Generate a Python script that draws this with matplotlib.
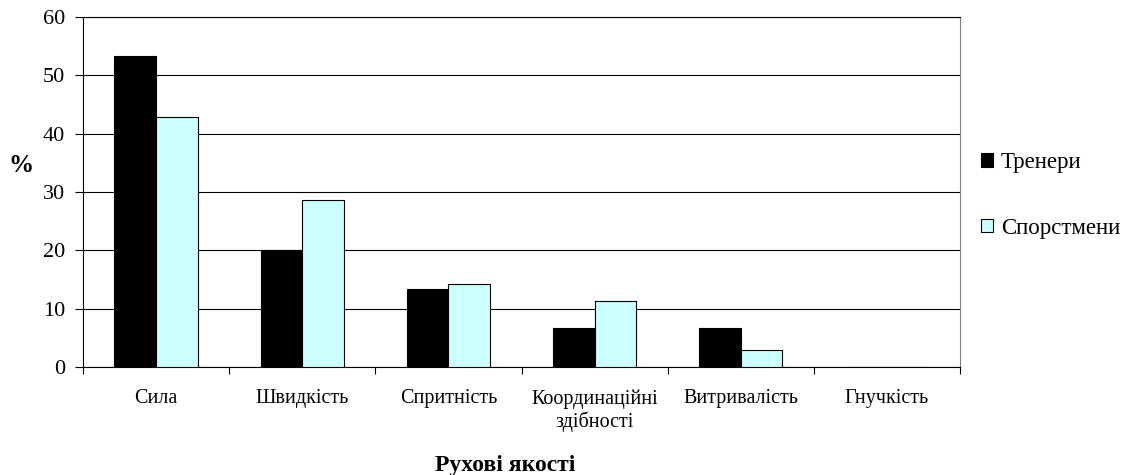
import matplotlib
matplotlib.use("Agg")
import matplotlib.pyplot as plt
import numpy as np
from matplotlib.patches import Patch

categories = ["Сила", "Швидкість", "Спритність", "Координаційні\nздібності", "Витривалість", "Гнучкість"]
coaches = [53.3, 20.0, 13.3, 6.7, 6.7, 0.0]
athletes = [42.9, 28.6, 14.3, 11.4, 2.9, 0.0]
series_names = ["Тренери", "Спорстмени"]
yticks = [0, 10, 20, 30, 40, 50, 60]

plt.rcParams['font.family'] = ['Liberation Serif', 'DejaVu Serif']

fig = plt.figure(figsize=(11.23, 4.75), dpi=100)
ax = fig.add_axes([83/1123, 1 - 367/475, (960-83)/1123, (367-17)/475])

x = np.arange(len(categories))
w = 0.285
ax.bar(x - w/2, coaches, w, color='black', edgecolor='black', linewidth=0.8, zorder=3)
ax.bar(x + w/2, athletes, w, color='#CCFFFF', edgecolor='black', linewidth=0.8, zorder=3)

ax.set_xlim(-0.5, len(categories) - 0.5)
ax.set_ylim(0, 60)
ax.set_yticks(yticks)
ax.set_yticklabels([str(v) for v in yticks], fontsize=16)
ax.yaxis.grid(True, color='black', linewidth=0.8, zorder=0)
ax.set_axisbelow(True)

ax.set_xticks(np.arange(-0.5, len(categories), 1.0))
ax.set_xticklabels([])
ax.set_xticks(x, minor=True)
ax.set_xticklabels(categories, minor=True, fontsize=14.5, linespacing=1.2)
ax.tick_params(axis='x', which='minor', length=0, pad=16)
ax.tick_params(axis='x', which='major', length=5, direction='out', width=0.8)
ax.tick_params(axis='y', length=6, direction='out', width=0.8, pad=7)

for s in ax.spines.values():
    s.set_linewidth(0.8)
    s.set_color('black')
ax.spines['right'].set_color('#808080')

fig.text(21/1123, 1 - 165/475, '%', fontsize=18, fontweight='bold', ha='center', va='center')
fig.text(505/1123, 1 - 465/475, 'Рухові якості', fontsize=17, fontweight='bold', ha='center', va='center')

handles = [Patch(facecolor='black', edgecolor='black', linewidth=0.8),
           Patch(facecolor='#CCFFFF', edgecolor='black', linewidth=0.8)]
fig.legend(handles, series_names, loc='upper left', bbox_to_anchor=(981/1123, 1 - 152/475),
           frameon=False, fontsize=16.5, handlelength=0.52, handleheight=0.52,
           handletextpad=0.35, labelspacing=1.95, borderaxespad=0, borderpad=0)

fig.savefig('out.png', dpi=100)
